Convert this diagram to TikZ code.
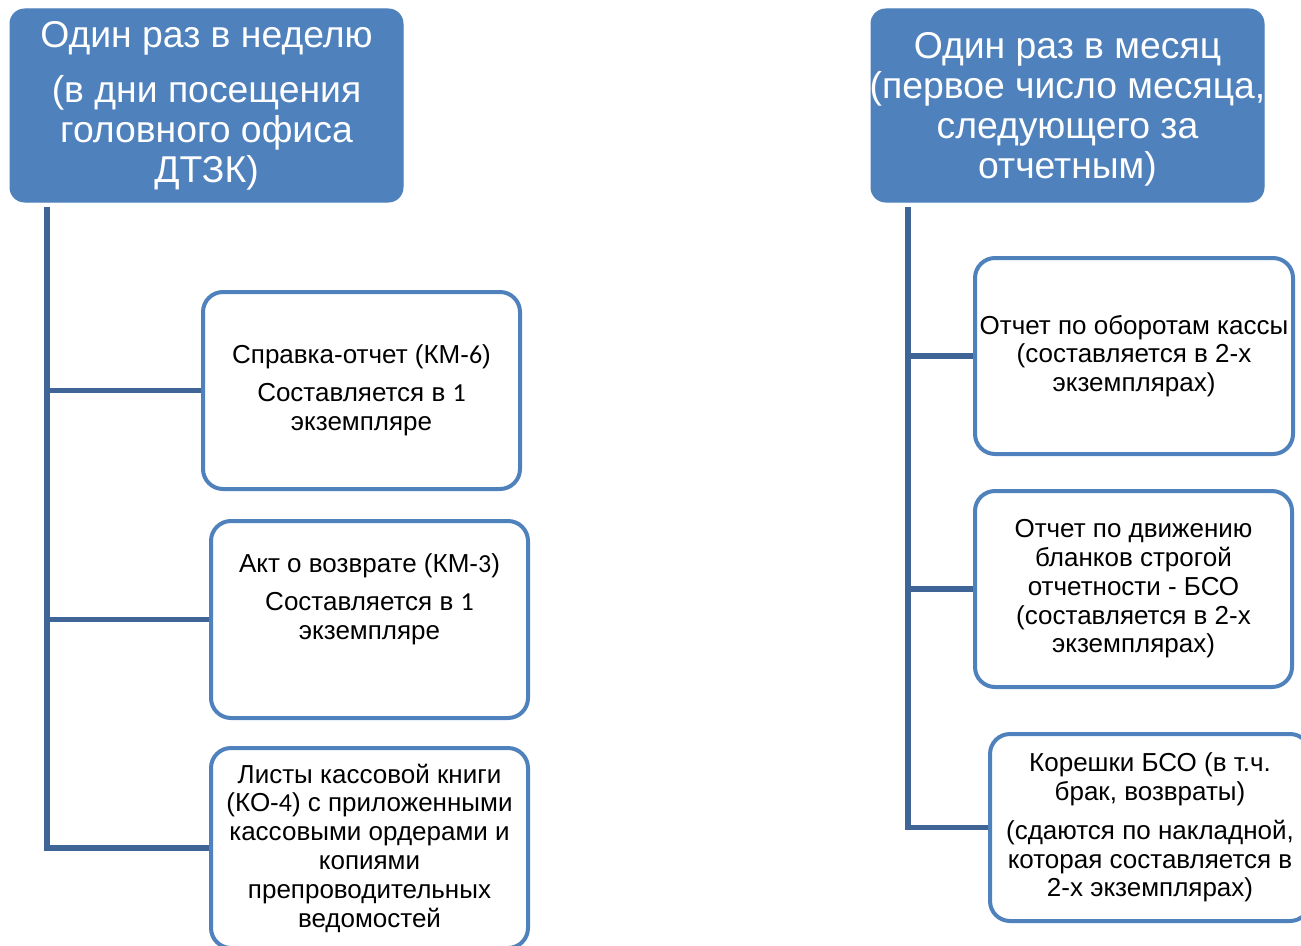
\documentclass[tikz,border=0pt]{standalone}
\usepackage{fontspec}
\setmainfont{Liberation Sans}
\newfontfamily\calfont{Carlito}
\usetikzlibrary{backgrounds}
\definecolor{accent}{HTML}{4F81BD}
\definecolor{trunkc}{RGB}{63,100,150}
\begin{document}
\begin{tikzpicture}[x=0.75pt,y=-0.75pt,
  hdr/.style={rectangle, rounded corners=11pt, fill=accent, draw=accent, line width=0.75pt,
    minimum width=294.75pt, minimum height=144.75pt, inner sep=0pt, align=center,
    text=white, font=\fontsize{28}{30}\selectfont},
  doc/.style={rectangle, rounded corners=15pt, fill=white, draw=accent, line width=3pt,
    minimum width=237.75pt, minimum height=147.75pt, inner sep=0pt, align=center,
    font=\fontsize{19.5}{21.6}\selectfont},
  txt/.style={inner sep=0pt, align=center, font=\fontsize{19.5}{21.6}\selectfont},
  trunk/.style={draw=trunkc, line width=4.1pt}]
\useasboundingbox (0,0) rectangle (1301,945);

% headers
\node[hdr] (hL) at (206.5,105.5) {Один раз в неделю\\[11pt](в дни посещения\\головного офиса\\ДТЗК)};
\node[hdr] (hR) at (1067.5,105.5) {};
\node[inner sep=0pt, align=center, text=white, font=\fontsize{28}{30}\selectfont] (hRt)
  at ([yshift=-2.5pt]hR.center) {Один раз в месяц\\(первое число месяца,\\следующего за\\отчетным)};

% left column
\node[doc] (l1) at (361.5,390.5) {Справка-отчет (КМ-{\calfont 6})\\[7pt]Составляется в {\calfont 1}\\экземпляре};
\node[doc] (l2) at (369.5,619.5) {};
\node[txt] (l2t) at ([yshift=15pt]l2.center) {Акт о возврате (КМ-{\calfont 3})\\[7pt]Составляется в {\calfont 1}\\экземпляре};
\node[doc, minimum height=150pt] (l3) at (369.5,848) {Листы кассовой книги\\(КО-{\calfont 4}) с приложенными\\кассовыми ордерами и\\копиями\\препроводительных\\ведомостей};

% right column
\node[doc, minimum width=238.5pt, minimum height=147pt] (r1) at (1134,356) {Отчет по оборотам кассы\\(составляется в 2-х\\экземплярах)};
\node[doc, minimum height=147pt] (r2) at (1133.5,589) {Отчет по движению\\бланков строгой\\отчетности - БСО\\(составляется в 2-х\\экземплярах)};
\node[doc, minimum width=240pt, minimum height=140.25pt] (r3) at (1150,827.5) {Корешки БСО (в т.ч.\\брак, возвраты)\\[7.5pt](сдаются по накладной,\\которая составляется в\\2-х экземплярах)};

% connectors
\coordinate (tL) at (47,207);
\coordinate (tR) at (908,207);
\begin{scope}[on background layer]
\draw[trunk] (tL) |- (l3.west);
\draw[trunk] (tL |- l1.west) -- (l1.west);
\draw[trunk] (tL |- l2.west) -- (l2.west);
\draw[trunk] (tR) |- (r3.west);
\draw[trunk] (tR |- r1.west) -- (r1.west);
\draw[trunk] (tR |- r2.west) -- (r2.west);
\end{scope}
\end{tikzpicture}
\end{document}
